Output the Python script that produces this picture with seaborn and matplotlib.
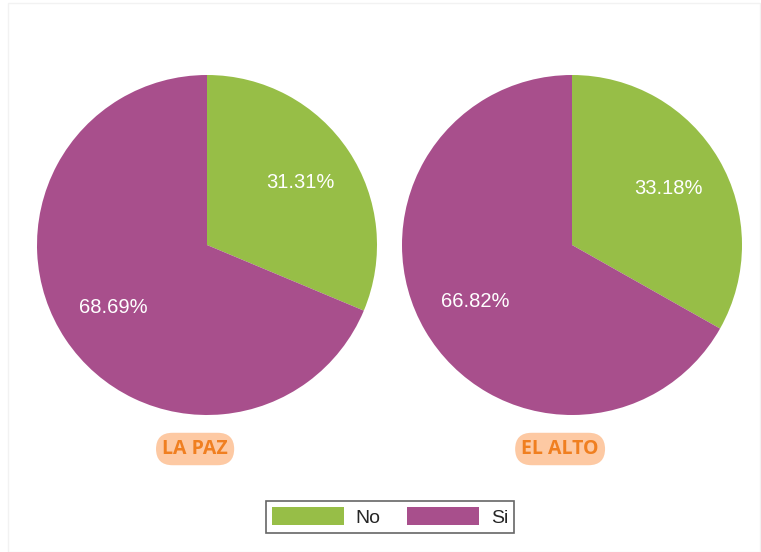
import numpy as np
import pandas as pd
import matplotlib
matplotlib.use('Agg')
import matplotlib.pyplot as plt
import seaborn as sns
from matplotlib.patches import Patch, Rectangle

# datos
ciudades = ['LA PAZ', 'EL ALTO']
categorias = ['No', 'Si']
no_vals = [31.31, 33.18]
si_vals = [68.69, 66.82]
colores = ['#97BE47', '#A84F8C']

sns.set_style('white')
plt.rcParams['font.family'] = ['Liberation Sans', 'DejaVu Sans']

fig = plt.figure(figsize=(7.61, 5.52), dpi=100)
fig.patches.append(Rectangle((8/761, 0), 752/761, 549/552, transform=fig.transFigure,
                             fill=False, edgecolor='#f2f2f2', linewidth=1))

# posición de cada pie (izq, abajo, ancho, alto)
posiciones = [[37/761, 137/552, 340/761, 340/552],
              [402/761, 137/552, 340/761, 340/552]]

for i in range(len(ciudades)):
    ax = fig.add_axes(posiciones[i])
    vals = [no_vals[i], si_vals[i]]
    wedges, texts, autotexts = ax.pie(vals, colors=colores, startangle=90, counterclock=False,
                                      autopct='%.2f%%', pctdistance=0.66,
                                      wedgeprops=dict(linewidth=0))
    for t in autotexts:
        t.set_color('white')
        t.set_fontsize(14.5)
    ax.set_xlim(-1, 1)
    ax.set_ylim(-1, 1)
    ax.set_aspect('equal')
    ax.text(0.465, -0.1, ciudades[i], transform=ax.transAxes, ha='center', va='center',
            fontsize=14, fontweight='bold', color='#F07F20', family='Open Sans',
            bbox=dict(boxstyle='round,pad=0.32,rounding_size=0.85', facecolor='#FDC9A3', edgecolor='none'))

handles = [Patch(facecolor=colores[j], edgecolor='none', label=categorias[j]) for j in range(2)]
leg = fig.legend(handles=handles, loc='center', bbox_to_anchor=(390/761, 1 - 517/552), ncol=2,
                 frameon=True, fancybox=False, edgecolor='#404040', fontsize=14,
                 handlelength=3.7, handleheight=1.05, columnspacing=1.4, handletextpad=0.6,
                 borderpad=0.3)
leg.get_frame().set_linewidth(1.2)

fig.savefig('out.png', dpi=100)
